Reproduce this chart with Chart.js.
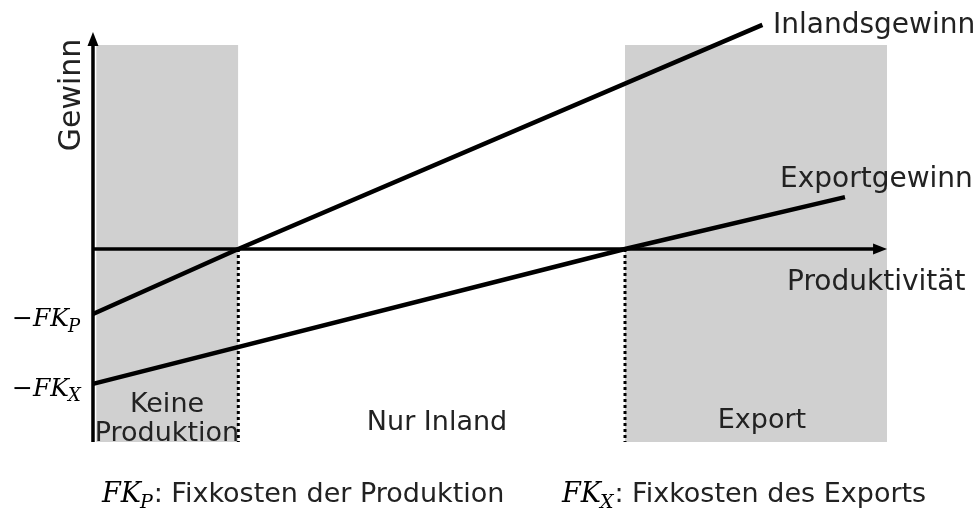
<!DOCTYPE html>
<html>
<head>
<meta charset="utf-8">
<script src="https://cdn.jsdelivr.net/npm/chart.js@4.4.1/dist/chart.umd.min.js"></script>
<style>
  body { margin: 0; background: #fff; }
  #wrap { width: 979px; height: 509px; position: relative; }
</style>
</head>
<body>
<div id="wrap"><canvas id="chart"></canvas></div>
<script>
// Werte (Produktivität 0..100, Gewinn in beliebigen Einheiten)
const inlandX = [0, 18.3, 84.3];
const inlandY = [-33.7, 0, 116.1];
const exportX = [0, 67.0, 94.7];
const exportY = [-69.9, 0, 26.9];
const cutoffs = [18.3, 67.0];               // Nullgewinn-Schwellen
const regionKeine = [0.4, 18.3];
const regionExport = [67.0, 100];
const regionTop = 105.7;
const regionBottom = -100;
const yTickValues = [-33.7, -69.9];
const yTickSubs = ['P', 'X'];
const axisXMax = 100;
const axisYMax = 112.4;

const GRAY = 'rgb(208,208,208)';
const SANS = '"DejaVu Sans", "Noto Sans", sans-serif';
const SERIF = '"DejaVu Serif", "Liberation Serif", serif';

function pts(xs, ys) {
    return xs.map((x, i) => ({ x: x, y: ys[i] }));
}

function region(r, order) {
    return {
        data: [{ x: r[0], y: regionTop }, { x: r[1], y: regionTop }],
        borderWidth: 0,
        pointRadius: 0,
        backgroundColor: GRAY,
        fill: { value: regionBottom },
        order: order
    };
}

function dotted(x) {
    return {
        data: [{ x: x, y: 0 }, { x: x, y: regionBottom }],
        borderColor: '#000',
        borderWidth: 3,
        borderDash: [3, 3],
        pointRadius: 0,
        fill: false,
        order: 2
    };
}

// Achsen mit Pfeilen und Beschriftungen
const decor = {
    id: 'decor',
    afterDatasetsDraw(chart) {
        const ctx = chart.ctx;
        const xs = chart.scales.x, ys = chart.scales.y;
        const x0 = xs.getPixelForValue(0), y0 = ys.getPixelForValue(0);
        const xEnd = xs.getPixelForValue(axisXMax);
        const yTop = ys.getPixelForValue(axisYMax);
        const yBot = ys.getPixelForValue(regionBottom);

        ctx.save();
        ctx.strokeStyle = '#000';
        ctx.fillStyle = '#000';
        ctx.lineWidth = 3.5;
        ctx.beginPath();
        ctx.moveTo(x0, yBot);
        ctx.lineTo(x0, yTop + 8);
        ctx.moveTo(x0, y0);
        ctx.lineTo(xEnd - 8, y0);
        ctx.stroke();
        // Pfeilspitzen
        ctx.beginPath();
        ctx.moveTo(x0, yTop);
        ctx.lineTo(x0 - 5.5, yTop + 14);
        ctx.lineTo(x0 + 5.5, yTop + 14);
        ctx.closePath();
        ctx.fill();
        ctx.beginPath();
        ctx.moveTo(xEnd, y0);
        ctx.lineTo(xEnd - 14, y0 - 5.5);
        ctx.lineTo(xEnd - 14, y0 + 5.5);
        ctx.closePath();
        ctx.fill();

        // Texte
        ctx.fillStyle = '#222';
        ctx.font = '28px ' + SANS;
        ctx.textAlign = 'left';
        ctx.textBaseline = 'alphabetic';
        ctx.fillText('Inlandsgewinn', 773, 33);
        ctx.fillText('Exportgewinn', 780, 187);
        ctx.fillText('Produktivität', 787, 290);
        ctx.font = '27px ' + SANS;
        ctx.textAlign = 'center';
        ctx.fillText('Keine', 167, 412);
        ctx.fillText('Produktion', 167, 441);
        ctx.fillText('Nur Inland', 437, 430);
        ctx.fillText('Export', 762, 428);

        ctx.save();
        ctx.translate(80, 95);
        ctx.rotate(-Math.PI / 2);
        ctx.font = '30px ' + SANS;
        ctx.fillText('Gewinn', 0, 0);
        ctx.restore();

        // Achsenwerte -FK_P, -FK_X
        yTickValues.forEach((v, i) => {
            const y = ys.getPixelForValue(v) + 12;
            mathLabel(ctx, 12, y, true, yTickSubs[i], 25);
        });

        // Legende unten
        let x = mathLabel(ctx, 102, 502, false, 'P', 27);
        ctx.textAlign = 'left';
        ctx.fillStyle = '#222';
        ctx.font = '27px ' + SANS;
        ctx.fillText(': Fixkosten der Produktion', x, 502);
        x = mathLabel(ctx, 562, 502, false, 'X', 27);
        ctx.textAlign = 'left';
        ctx.fillStyle = '#222';
        ctx.font = '27px ' + SANS;
        ctx.fillText(': Fixkosten des Exports', x, 502);
        ctx.restore();
    }
};

function mathLabel(ctx, x, y, minus, sub, size) {
    ctx.textAlign = 'left';
    ctx.fillStyle = '#000';
    if (minus) {
        ctx.font = size + 'px ' + SERIF;
        ctx.fillText('\u2212', x, y);
        x += ctx.measureText('\u2212').width;
    }
    ctx.font = 'italic ' + size + 'px ' + SERIF;
    ctx.fillText('FK', x, y);
    x += ctx.measureText('FK').width;
    ctx.font = 'italic ' + Math.round(size * 0.72) + 'px ' + SERIF;
    ctx.fillText(sub, x - 1, y + size * 0.22);
    x += ctx.measureText(sub).width;
    return x;
}

new Chart(document.getElementById('chart'), {
    type: 'line',
    data: {
        datasets: [
            {
                label: 'Inlandsgewinn',
                data: pts(inlandX, inlandY),
                borderColor: '#000',
                borderWidth: 4.5,
                pointRadius: 0,
                fill: false,
                order: 1
            },
            {
                label: 'Exportgewinn',
                data: pts(exportX, exportY),
                borderColor: '#000',
                borderWidth: 4.5,
                pointRadius: 0,
                fill: false,
                order: 1
            },
            dotted(cutoffs[0]),
            dotted(cutoffs[1]),
            region(regionKeine, 3),
            region(regionExport, 3)
        ]
    },
    options: {
        responsive: true,
        maintainAspectRatio: false,
        animation: false,
        layout: { padding: 0 },
        plugins: { legend: { display: false }, tooltip: { enabled: false } },
        scales: {
            x: { type: 'linear', min: -11.71, max: 111.58, display: false },
            y: { type: 'linear', min: -134.7, max: 129.0, display: false }
        }
    },
    plugins: [decor]
});
</script>
</body>
</html>
